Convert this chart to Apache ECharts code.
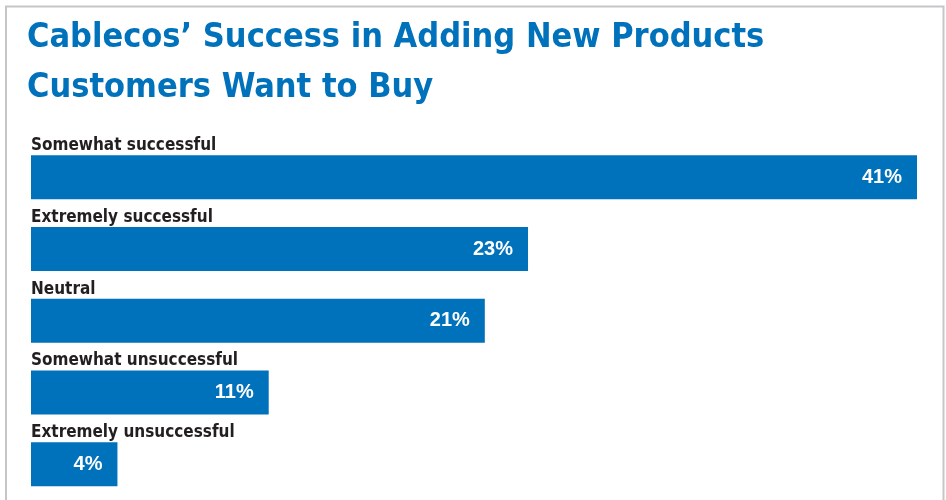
<!DOCTYPE html>
<html>
<head>
<meta charset="utf-8">
<script src="https://cdn.jsdelivr.net/npm/echarts@6/dist/echarts.min.js"></script>
<style>
  html, body { margin: 0; padding: 0; background: #fff; }
  #chart { width: 946px; height: 500px; }
</style>
</head>
<body>
<div id="chart"></div>
<script>
// Survey answers, top to bottom, and their shares in percent
const categories = [
  'Somewhat successful',
  'Extremely successful',
  'Neutral',
  'Somewhat unsuccessful',
  'Extremely unsuccessful'
];
const shares = [41, 23, 21, 11, 4];
const titleLines = ['Cablecos\u2019 Success in Adding New Products', 'Customers Want to Buy'];

const BLUE = '#0071bb';
const NARROW = '"DejaVu Sans Condensed", "Liberation Sans Narrow", "Liberation Sans", Arial, sans-serif';

const chart = echarts.init(document.getElementById('chart'), null, { renderer: 'canvas' });

chart.setOption({
  animation: false,
  backgroundColor: '#ffffff',
  title: {
    text: titleLines.join('\n'),
    left: 22,
    top: 8,
    textStyle: {
      fontFamily: NARROW,
      fontWeight: 'bold',
      fontSize: 34,
      lineHeight: 50,
      color: BLUE
    }
  },
  graphic: [{
    type: 'rect',
    shape: { x: 6, y: 6.5, width: 937.5, height: 600 },
    style: { fill: null, stroke: '#c6c6c9', lineWidth: 2 },
    silent: true
  }],
  grid: { left: 31, width: 886, top: 141.5, height: 365, containLabel: false },
  xAxis: {
    type: 'value',
    min: 0,
    max: 41,
    show: false
  },
  yAxis: {
    type: 'category',
    data: categories,
    inverse: true,
    show: false
  },
  series: [
    {
      type: 'bar',
      data: shares,
      barWidth: 44,
      itemStyle: { color: BLUE },
      label: {
        show: true,
        position: 'insideRight',
        distance: 15,
        formatter: '{c}%',
        color: '#ffffff',
        fontFamily: '"Liberation Sans", Arial, sans-serif',
        fontWeight: 'bold',
        fontSize: 20
      }
    },
    {
      // transparent twin carrying the answer text above each bar
      type: 'bar',
      data: shares,
      barWidth: 44,
      barGap: '-100%',
      itemStyle: { color: 'rgba(0,0,0,0)' },
      silent: true,
      label: {
        show: true,
        position: [0, -1],
        verticalAlign: 'bottom',
        align: 'left',
        formatter: '{b}',
        color: '#231f20',
        fontFamily: NARROW,
        fontWeight: 'bold',
        fontSize: 17
      }
    }
  ]
});
</script>
</body>
</html>
